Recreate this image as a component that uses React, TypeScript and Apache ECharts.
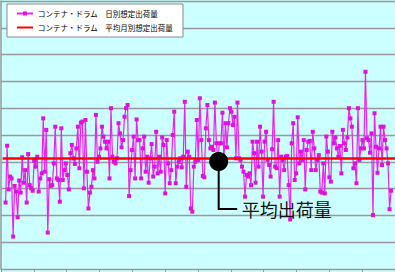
import React, { useEffect, useRef } from "react";
import * as echarts from "echarts";

const SERIES_DAILY = "コンテナ・ドラム　日別想定出荷量";
const SERIES_AVG = "コンテナ・ドラム　平均月別想定出荷量";
const CALLOUT = "平均出荷量";

const DAILY: number[] = [
  2.48, 4.6, 2.97, 3.45, 3.38, 1.21, 3.1, 2.89, 1.93, 3.3, 2.85, 4.17, 3.22, 3.69, 2.48, 4.29, 3.13, 3.01, 2.92, 4.04,
  3.82, 4.19, 2.89, 3.38, 3.57, 5.62, 3.63, 5.19, 1.36, 3.35, 3.1, 3.13, 3.94, 5.31, 3.38, 3.32, 2.51, 5.25, 3.32, 3.69,
  3.94, 3.51, 2.97, 4.32, 4.63, 4.13, 3.92, 4.5, 5.31, 3.76, 5.46, 5.5, 3.01, 5.56, 3.63, 2.26, 2.85, 3.07, 3.69, 3.38,
  5.75, 4.0, 4.19, 4.5, 5.31, 4.94, 4.75, 4.5, 4.75, 3.38, 6.0, 4.19, 4.0, 3.94, 4.13, 5.44, 5.06, 4.54, 4.81, 5.68,
  6.0, 6.12, 2.72,
  3.69, 4.44, 4.94, 3.38, 5.58, 4.81, 4.81, 3.38, 4.5, 4.94, 3.63, 4.19, 3.22, 4.13, 4.66, 3.45, 3.82, 5.12, 3.57, 4.19,
  3.63, 4.91, 4.63, 2.82, 4.81, 3.94, 3.2, 3.69, 5.0, 5.87, 3.2, 3.82, 4.0, 4.13, 3.79, 4.19, 6.24, 3.07, 4.38, 4.19,
  2.26, 2.14, 3.82, 4.0,
  5.56, 4.07, 6.37, 4.81, 3.47, 3.42, 5.25, 6.12, 4.81, 4.5, 4.56, 4.44, 6.21, 4.69, 4.0, 4.69, 4.69, 5.83, 4.07, 5.44,
  4.54, 5.44, 6.0, 5.87, 5.37, 5.68, 4.13, 6.21, 4.13, 4.07, 3.82, 3.63, 2.7, 3.51, 3.45, 3.57, 3.13, 4.75, 4.32, 3.22,
  4.75, 3.82, 5.31,
  4.38, 2.7, 4.75, 5.12, 4.07, 3.88, 3.45, 4.47, 6.24, 3.82, 3.76, 4.81, 2.7, 4.19, 4.07, 3.69, 4.19, 4.22, 3.13, 1.85,
  4.69, 5.44, 3.32, 3.57, 5.66, 3.94, 4.38, 4.07, 4.81, 2.97, 4.44, 4.75, 4.78, 3.69, 5.12, 4.5, 3.69, 4.07, 4.25, 2.89,
  2.85, 3.94, 2.82, 4.94,
  4.38, 3.42, 3.26, 5.12, 4.69, 4.91, 4.5, 4.19, 4.59, 3.57, 5.19, 4.69, 4.44, 4.91, 6.0, 5.62, 5.31, 3.76, 3.94, 3.2,
  6.0, 4.07, 4.5, 4.81, 4.5, 7.36, 4.88, 4.81, 4.34, 5.06, 2.01, 5.81, 4.56, 3.59, 4.5, 5.31, 3.88, 5.31, 4.81, 4.5,
  3.94, 2.23, 2.92,
];
const AVG = 4.12;
const X_START = 0.14;
const X_END = 11.88;
const CALLOUT_X = 6.63;

export default function App() {
  const ref = useRef<HTMLDivElement>(null);
  useEffect(() => {
    if (!ref.current) return;
    const chart = echarts.init(ref.current, null, { renderer: "svg" });
    const n = DAILY.length;
    const dailyData = DAILY.map((v, i) => [X_START + (i * (X_END - X_START)) / (n - 1), v]);
    chart.setOption({
      animation: false,
      backgroundColor: "#ccffff",
      legend: {
        orient: "vertical",
        left: 7,
        top: 4,
        padding: [5, 10, 5, 9],
        itemGap: 5,
        itemWidth: 16,
        itemHeight: 5,
        backgroundColor: "#ffffff",
        borderColor: "#8a8a8a",
        borderWidth: 1,
        textStyle: { fontSize: 7.5, color: "#000", fontFamily: "Noto Sans CJK JP", lineHeight: 9 },
        data: [
          { name: SERIES_DAILY },
          { name: SERIES_AVG, itemStyle: { opacity: 0 } },
        ],
      },
      grid: { left: 1, right: 0, top: 1, bottom: 3, containLabel: false },
      xAxis: {
        type: "value",
        min: 0,
        max: 12,
        interval: 1,
        axisLine: { show: true, lineStyle: { color: "#999", width: 1 } },
        axisTick: { show: true, length: 3, lineStyle: { color: "#999" } },
        axisLabel: { show: false },
        splitLine: { show: false },
      },
      yAxis: {
        type: "value",
        min: 0,
        max: 10,
        interval: 1,
        axisLine: { show: true, lineStyle: { color: "#999", width: 1.5 } },
        axisTick: { show: false },
        axisLabel: { show: false },
        splitLine: { show: true, lineStyle: { color: "#999", width: 1.3 } },
      },
      series: [
        {
          name: SERIES_DAILY,
          type: "line",
          data: dailyData,
          symbol: "rect",
          symbolSize: 4,
          showSymbol: true,
          lineStyle: { color: "#ee22ee", width: 1.2 },
          itemStyle: { color: "#e010e0" },
          z: 2,
        },
        {
          name: SERIES_AVG,
          type: "line",
          data: [
            [0.05, AVG],
            [12, AVG],
          ],
          symbol: "none",
          lineStyle: { color: "#ff0000", width: 2.5 },
          itemStyle: { color: "#ff0000" },
          z: 3,
          markPoint: {
            symbol: "circle",
            symbolSize: 19,
            symbolOffset: [0, 3],
            itemStyle: { color: "#000", opacity: 1 },
            label: { show: false },
            silent: true,
            data: [{ coord: [CALLOUT_X, AVG] }],
          },
        },
      ],
    });
    const p = chart.convertToPixel({ gridIndex: 0 }, [CALLOUT_X, AVG]) as number[];
    if (p) {
      const x = p[0];
      const y = p[1];
      chart.setOption({
        graphic: [
          {
            type: "polyline",
            shape: { points: [[x, y + 10], [x, y + 50.5], [x + 18.5, y + 50.5]] },
            style: { stroke: "#000", lineWidth: 2, fill: "none" },
            z: 100,
          },
          {
            type: "text",
            x: x + 23,
            y: y + 50,
            style: {
              text: CALLOUT,
              fontSize: 18,
              fontFamily: "Noto Sans CJK JP",
              fill: "#111",
              verticalAlign: "middle",
              align: "left",
            },
            z: 100,
          },
        ],
      });
    }
    return () => chart.dispose();
  }, []);
  return (
    <div
      ref={ref}
      style={{ position: "fixed", left: 0, top: 0, width: 395, height: 272 }}
    />
  );
}
